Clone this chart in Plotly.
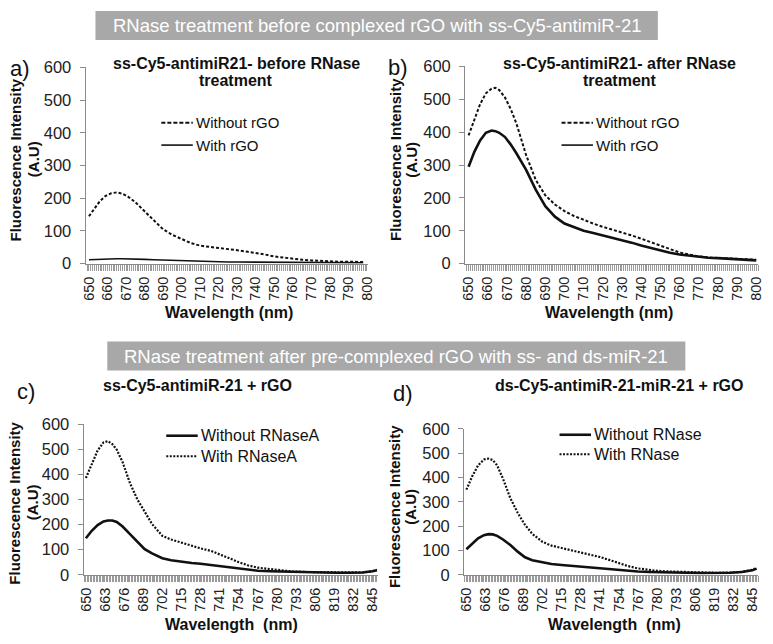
import plotly.graph_objects as go

W, H = 773, 644

# ---------------- DATA ----------------
# Panel a: ss-Cy5-antimiR21 before RNase treatment
a_wl = [650, 653, 656, 659, 662, 665, 668, 671, 675, 680, 685, 690, 695, 700, 705, 710, 715, 720, 725, 730,
        735, 740, 745, 750, 755, 760, 765, 770, 775, 780, 785, 790, 795, 798]
a_without_rgo = [145, 170, 192, 207, 215, 218, 214, 205, 188, 160, 132, 105, 88, 75, 63, 55, 52, 48, 44, 41,
                 37, 33, 28, 22, 18, 15, 12, 10, 8, 7, 6, 6, 5, 5]
a_with_rgo = [12, 13, 14, 15, 15, 15, 15, 15, 14, 13, 12, 11, 10, 8, 7, 6, 6, 5, 5, 5,
              5, 5, 5, 4, 4, 4, 4, 3, 3, 3, 3, 3, 3, 3]

# Panel b: ss-Cy5-antimiR21 after RNase treatment
b_wl = [650, 653, 656, 659, 662, 664, 666, 669, 672, 675, 680, 685, 690, 695, 700, 705, 710, 715, 720, 725,
        730, 735, 740, 745, 750, 755, 760, 765, 770, 775, 780, 785, 790, 795, 800]
b_without_rgo = [390, 440, 485, 518, 532, 535, 528, 505, 470, 425, 330, 255, 208, 180, 160, 145, 133, 122, 112, 104,
                 96, 86, 76, 65, 55, 44, 34, 28, 22, 19, 18, 16, 15, 13, 12]
b_with_rgo = [295, 340, 375, 398, 405, 403, 398, 385, 362, 335, 285, 225, 175, 143, 122, 110, 100, 93, 86, 80,
              72, 64, 55, 47, 40, 33, 28, 24, 20, 18, 17, 15, 13, 11, 10]

# Panel c: ss-Cy5-antimiR-21 + rGO
c_wl = [650, 654, 658, 662, 665, 668, 671, 675, 680, 685, 690, 695, 702, 708, 715, 722, 728, 735, 741, 748,
        754, 760, 767, 775, 780, 790, 800, 810, 820, 830, 838, 845, 848]
c_without = [145, 175, 198, 212, 216, 216, 210, 192, 162, 130, 102, 85, 66, 58, 52, 47, 44, 39, 35, 30,
             26, 21, 16, 14, 13, 11, 10, 9, 8, 8, 9, 14, 18]
c_with = [385, 440, 495, 527, 532, 520, 498, 448, 365, 300, 250, 202, 155, 140, 128, 115, 105, 95, 82, 65,
          50, 38, 28, 22, 18, 13, 11, 10, 9, 8, 9, 14, 20]

# Panel d: ds-Cy5-antimiR-21-miR-21 + rGO
d_wl = [650, 654, 658, 662, 665, 668, 671, 675, 680, 685, 690, 695, 702, 708, 715, 722, 728, 735, 741, 748,
        754, 760, 767, 775, 780, 790, 800, 810, 820, 830, 838, 845, 848]
d_without = [105, 128, 150, 163, 167, 166, 160, 145, 122, 95, 72, 60, 50, 44, 40, 36, 33, 30, 27, 23,
             20, 16, 13, 11, 10, 9, 8, 7, 7, 8, 11, 18, 25]
d_with = [350, 405, 450, 474, 478, 472, 450, 395, 315, 255, 205, 168, 135, 120, 110, 100, 92, 82, 73, 60,
          47, 36, 26, 19, 16, 13, 11, 9, 8, 9, 12, 20, 28]

ab_ticks = [650, 660, 670, 680, 690, 700, 710, 720, 730, 740, 750, 760, 770, 780, 790, 800]
cd_ticks = [650, 663, 676, 689, 702, 715, 728, 741, 754, 767, 780, 793, 806, 819, 832, 845]
y_ticks = [0, 100, 200, 300, 400, 500, 600]

FONT = "Liberation Sans"
AX = "#8a8a8a"
LINE = "#111111"
DASH = "3px,2px"
DOT = "2px,1.5px"


def px(x):
    return x / W


def py(y):
    return 1 - y / H


fig = go.Figure()

# panels: (axis suffix, x0, x1, y_top, y_bottom, x range, ticks)
panels = {
    "a": ("", 81, 368, 60, 262, [648.2, 800.5], ab_ticks),
    "b": ("2", 467, 765, 59, 262, [648.2, 801.0], ab_ticks),
    "c": ("3", 79, 378, 427, 582, [648.5, 848.5], cd_ticks),
    "d": ("4", 466, 765, 432, 582, [648.5, 849.0], cd_ticks),
}

series = {
    "a": [(a_wl, a_without_rgo, DASH, 2.0), (a_wl, a_with_rgo, "solid", 1.6)],
    "b": [(b_wl, b_without_rgo, DASH, 2.0), (b_wl, b_with_rgo, "solid", 2.6)],
    "c": [(c_wl, c_without, "solid", 2.6), (c_wl, c_with, DOT, 2.2)],
    "d": [(d_wl, d_without, "solid", 2.6), (d_wl, d_with, DOT, 2.2)],
}

layout_axes = {}
for key, (sid, x0, x1, yt, yb, xr, ticks) in panels.items():
    for xs, ys, dash, wdt in series[key]:
        fig.add_trace(go.Scatter(x=xs, y=ys, mode="lines", xaxis="x" + sid, yaxis="y" + sid,
                                 line=dict(color=LINE, width=wdt, dash=dash), showlegend=False,
                                 hoverinfo="skip"))
    layout_axes["xaxis" + sid] = dict(
        domain=[px(x0), px(x1)], anchor="y" + sid, range=xr,
        tickmode="array", tickvals=ticks, ticktext=[str(t) for t in ticks],
        tickangle=-90, tickfont=dict(family=FONT, size=14.5, color="#222"),
        ticklabeloverflow="allow",
        showline=True, linecolor=AX, linewidth=1.2,
        ticks="outside", ticklen=6, tickcolor="#9a9a9a", tickwidth=1,
        minor=dict(dtick=1, tick0=650, ticks="outside", ticklen=6, tickcolor="#9a9a9a", tickwidth=1),
        showgrid=False, zeroline=False, fixedrange=True)
    layout_axes["yaxis" + sid] = dict(
        domain=[py(yb), py(yt)], anchor="x" + sid, range=[0, 600],
        tickmode="array", tickvals=y_ticks, ticktext=[str(t) for t in y_ticks],
        tickfont=dict(family=FONT, size=16.5, color="#222"),
        ticklabelstandoff=5,
        showline=True, linecolor=AX, linewidth=1.2,
        ticks="outside", ticklen=5, tickcolor=AX,
        showgrid=False, zeroline=False, fixedrange=True)

fig.update_layout(**layout_axes)

annotations = []
shapes = []


def text(x, y, s, size=14, bold=False, color="#111", angle=0, xanchor="center", yanchor="middle"):
    annotations.append(dict(x=px(x), y=py(y), xref="paper", yref="paper", text=("<b>%s</b>" % s) if bold else s,
                            showarrow=False, textangle=angle, xanchor=xanchor, yanchor=yanchor,
                            font=dict(family=FONT, size=size, color=color)))


# banners
shapes.append(dict(type="rect", xref="paper", yref="paper", x0=px(91), x1=px(663), y0=py(32), y1=py(2),
                   fillcolor="#a8a8a8", line=dict(width=0), layer="below"))
text(377, 17, "RNase treatment before complexed rGO with ss-Cy5-antimiR-21", size=18.5, color="white")
shapes.append(dict(type="rect", xref="paper", yref="paper", x0=px(103), x1=px(691), y0=py(372), y1=py(342),
                   fillcolor="#a8a8a8", line=dict(width=0), layer="below"))
text(397, 357, "RNase treatment after pre-complexed rGO with ss- and ds-miR-21", size=18.5, color="white")

# panel letters
text(2, 61, "a)", size=22, xanchor="left")
text(386, 60, "b)", size=22, xanchor="left")
text(9, 394, "c)", size=22, xanchor="left")
text(392, 396, "d)", size=22, xanchor="left")

# panel titles
text(234, 56, "ss-Cy5-antimiR21- before RNase", size=16, bold=True)
text(234, 74, "treatment", size=16, bold=True)
text(624, 56, "ss-Cy5-antimiR21- after RNase", size=16, bold=True)
text(624, 74, "treatment", size=16, bold=True)
text(195, 387, "ss-Cy5-antimiR-21 + rGO", size=16, bold=True)
text(624, 387, "ds-Cy5-antimiR-21-miR-21 + rGO", size=16, bold=True)

# y titles
for (x1, x2, yc) in [(10, 28, 155), (396, 413, 155), (9, 27, 508), (395, 412, 512)]:
    text(x1, yc, "Fluorescence Intensity", size=15, bold=True, angle=-90)
    text(x2, yc, "(A.U)", size=15, bold=True, angle=-90)

# x titles
text(227, 312, "Wavelength (nm)", size=16, bold=True)
text(613, 312, "Wavelength (nm)", size=16, bold=True)
text(229, 633, "Wavelength  (nm)", size=16, bold=True)
text(619, 633, "Wavelength  (nm)", size=16, bold=True)

# legends (sample line + label)
legends = [
    (158, 117, "Without rGO", "4px,2px", 2.0, 15), (158, 140, "With rGO", "solid", 1.6, 15),
    (565, 117, "Without rGO", "4px,2px", 2.0, 15), (565, 140, "With rGO", "solid", 1.6, 15),
    (163, 439, "Without RNaseA", "solid", 2.6, 16), (163, 460, "With RNaseA", "2px,1.5px", 2.0, 16),
    (563, 438, "Without RNase", "solid", 2.6, 16), (563, 458, "With RNase", "2px,1.5px", 2.0, 16),
]
for (lx, ly, lab, dash, wdt, fs) in legends:
    shapes.append(dict(type="line", xref="paper", yref="paper", x0=px(lx), x1=px(lx + 32), y0=py(ly), y1=py(ly),
                       line=dict(color=LINE, width=wdt, dash=dash)))
    text(lx + 33, ly, lab, size=fs, xanchor="left")

fig.update_layout(width=W, height=H, margin=dict(l=0, r=0, t=0, b=0),
                  paper_bgcolor="white", plot_bgcolor="white",
                  annotations=annotations, shapes=shapes, showlegend=False)

fig.write_html("out.html", config={"displayModeBar": False},
               post_script="document.body.style.margin='0px';document.body.style.overflow='hidden';")
